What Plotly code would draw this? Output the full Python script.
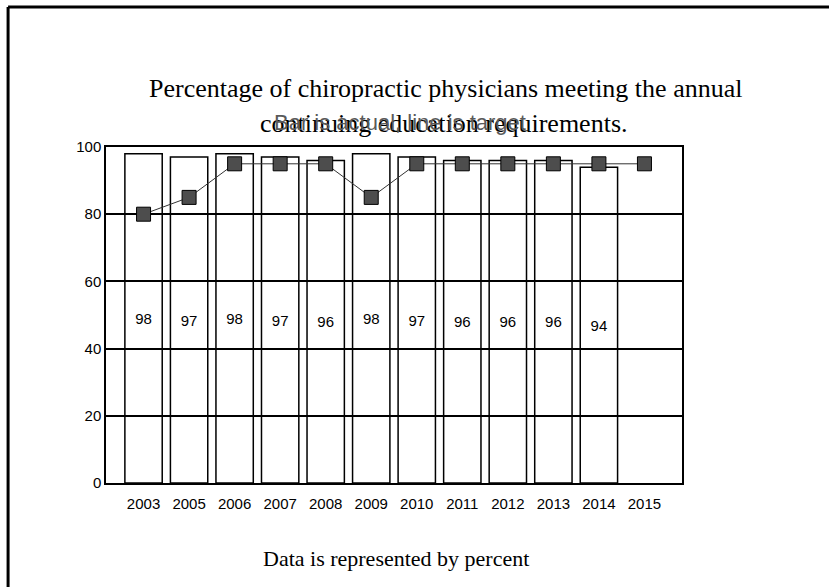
import plotly.graph_objects as go

years = ["2003", "2005", "2006", "2007", "2008", "2009", "2010",
         "2011", "2012", "2013", "2014", "2015"]
actual = [98, 97, 98, 97, 96, 98, 97, 96, 96, 96, 94, None]
target = [80, 85, 95, 95, 95, 85, 95, 95, 95, 95, 95, 95]
bar_labels = [str(v) if v is not None else "" for v in actual]

fig = go.Figure()

# actual values as outlined bars
fig.add_trace(go.Bar(
    x=years, y=actual, text=bar_labels,
    textposition="inside", insidetextanchor="middle",
    textfont=dict(family="Liberation Sans, Arial", size=15, color="black"),
    marker=dict(color="rgba(255,255,255,0)", line=dict(color="black", width=1.5)),
    showlegend=False))

# target line
fig.add_trace(go.Scatter(
    x=years, y=target, mode="lines+markers",
    line=dict(color="#333333", width=1),
    marker=dict(symbol="square", size=14, color="#4d4d4d",
                line=dict(color="black", width=1)),
    showlegend=False))

fig.update_layout(
    width=829, height=587,
    margin=dict(l=106, r=147, t=147, b=104),
    plot_bgcolor="white", paper_bgcolor="white",
    bargap=0.18,
    font=dict(family="Liberation Sans, Arial", size=15, color="black"))

fig.update_xaxes(showline=True, linecolor="black", linewidth=1.5, mirror=True,
                 showgrid=False, ticks="", tickfont=dict(size=15),
                 ticklabelstandoff=6, automargin=False)
fig.update_yaxes(range=[0, 100], dtick=20, showline=True, linecolor="black",
                 linewidth=1.5, mirror=True, showgrid=True, gridcolor="black",
                 gridwidth=1.5, zeroline=False, ticks="", tickfont=dict(size=15),
                 automargin=False)

serif = "Liberation Serif, Times New Roman"


def note(text, x, y, font):
    fig.add_annotation(text=text, x=(x - 106) / 576, y=(483 - y) / 336,
                       xref="paper", yref="paper", xanchor="center",
                       yanchor="middle", showarrow=False, font=font)


# text around the chart (positions in page pixels)
note("Percentage of chiropractic physicians meeting the annual", 445, 89,
     dict(family=serif, size=26, color="black"))
note("continuing education requirements.", 444, 123,
     dict(family=serif, size=26, color="black"))
note("Bar is actual, line is target", 400, 122,
     dict(family="Liberation Sans, Arial", size=22, color="#5a5a5a"))
note("Data is represented by percent", 396, 558,
     dict(family=serif, size=22, color="black"))

# page frame (left and top edges)
fig.add_shape(type="line", xref="paper", yref="paper", x0=-0.170, x1=-0.170,
              y0=1.4167, y1=-0.32, line=dict(color="black", width=3))
fig.add_shape(type="line", xref="paper", yref="paper", x0=-0.170, x1=1.26,
              y0=1.4167, y1=1.4167, line=dict(color="black", width=3))

fig.write_html("out.html", config={"displayModeBar": False},
               post_script="document.body.style.margin='0';")
